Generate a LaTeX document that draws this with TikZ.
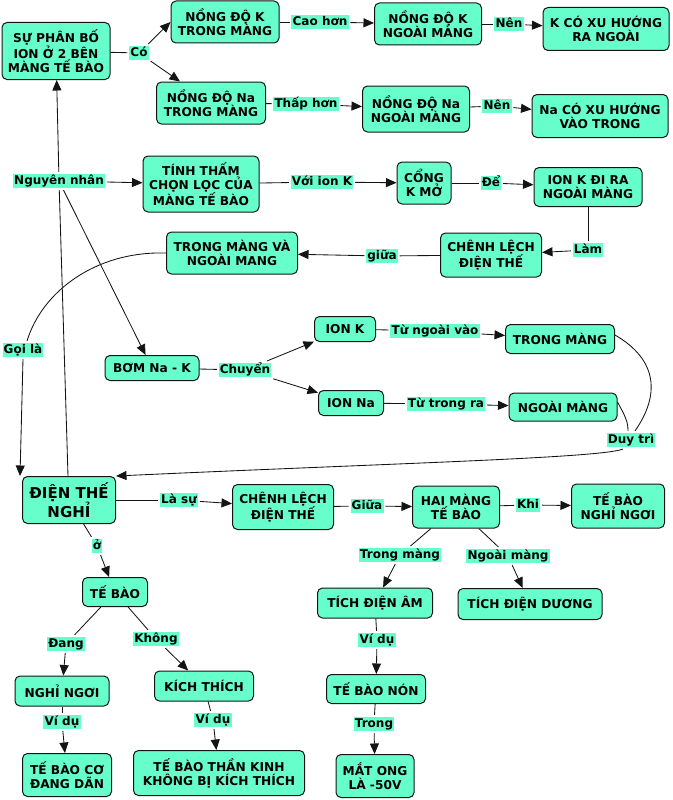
\documentclass[tikz,border=0pt]{standalone}
\usepackage{fontspec}
\setmainfont{DejaVu Sans}
\usetikzlibrary{arrows.meta}
\definecolor{aqua}{RGB}{102,255,204}
\definecolor{ln}{RGB}{20,20,20}
\begin{document}
\begin{tikzpicture}[x=1pt,y=-1pt,
 box/.style={draw=ln, fill=aqua, rounded corners=5pt, line width=1pt, align=center,
   font=\fontsize{12.2}{14.2}\selectfont\bfseries, inner sep=1pt},
 lab/.style={fill=aqua, inner sep=1.2pt, outer sep=1.8pt, text height=9.5pt, text depth=2.6pt,
   font=\fontsize{12}{14}\selectfont\bfseries},
 con/.style={draw=ln, line width=0.85pt},
 arr/.style={con, -{Triangle[length=10.5pt,width=9pt]}}]
\useasboundingbox (0,0) rectangle (672,800);

% ---- boxes ----
\node[box,minimum width=108pt,minimum height=57pt] (b1) at (56,51) {SỰ PHÂN BỐ\\ION Ở 2 BÊN\\MÀNG TẾ BÀO};
\node[box,minimum width=108pt,minimum height=42pt] (kin) at (225,22) {NỒNG ĐỘ K\\TRONG MÀNG};
\node[box,minimum width=107pt,minimum height=42pt] (kout) at (428,24) {NỒNG ĐỘ K\\NGOÀI MÀNG};
\node[box,minimum width=126pt,minimum height=43pt] (kdir) at (606,29) {K CÓ XU HƯỚNG\\RA NGOÀI};
\node[box,minimum width=109pt,minimum height=42pt] (nain) at (211,103) {NỒNG ĐỘ Na\\TRONG MÀNG};
\node[box,minimum width=107pt,minimum height=46pt] (naout) at (416,109) {NỒNG ĐỘ Na\\NGOÀI MÀNG};
\node[box,minimum width=136pt,minimum height=43pt] (nadir) at (600,116) {Na CÓ XU HƯỚNG\\VÀO TRONG};
\node[box,minimum width=116pt,minimum height=56pt] (ttcl) at (201,184) {TÍNH THẤM\\CHỌN LỌC CỦA\\MÀNG TẾ BÀO};
\node[box,minimum width=54pt,minimum height=42pt] (cong) at (424,183) {CỔNG\\K MỞ};
\node[box,minimum width=108pt,minimum height=39pt] (ionkra) at (588,187) {ION K ĐI RA\\NGOÀI MÀNG};
\node[box,minimum width=101pt,minimum height=44pt] (cldta) at (491,255) {CHÊNH LỆCH\\ĐIỆN THẾ};
\node[box,minimum width=131pt,minimum height=42pt] (tmnm) at (232,253) {TRONG MÀNG VÀ\\NGOÀI MANG};
\node[box,minimum width=94pt,minimum height=25pt] (bom) at (152,368) {BƠM Na - K};
\node[box,minimum width=61pt,minimum height=25pt] (ionk) at (345,329) {ION K};
\node[box,minimum width=109pt,minimum height=29pt] (trongm) at (560,339) {TRONG MÀNG};
\node[box,minimum width=65pt,minimum height=25pt] (ionna) at (351,403) {ION Na};
\node[box,minimum width=108pt,minimum height=28pt] (ngoaim) at (563,407) {NGOÀI MÀNG};
\node[box,minimum width=93pt,minimum height=47pt,font=\fontsize{15}{17.5}\selectfont\bfseries] (dtn) at (69,500) {ĐIỆN THẾ\\NGHỈ};
\node[box,minimum width=101pt,minimum height=45pt] (cldtb) at (283,507) {CHÊNH LỆCH\\ĐIỆN THẾ};
\node[box,minimum width=87pt,minimum height=42pt] (hai) at (456,507) {HAI MÀNG\\TẾ BÀO};
\node[box,minimum width=93pt,minimum height=44pt] (tbnn) at (618,506) {TẾ BÀO\\NGHỈ NGƠI};
\node[box,minimum width=115pt,minimum height=30pt] (tdam) at (375,603) {TÍCH ĐIỆN ÂM};
\node[box,minimum width=144pt,minimum height=31pt] (tdduong) at (530,604) {TÍCH ĐIỆN DƯƠNG};
\node[box,minimum width=99pt,minimum height=29pt] (tbnon) at (376,689) {TẾ BÀO NÓN};
\node[box,minimum width=78pt,minimum height=43pt] (matong) at (375,776) {MẮT ONG\\LÀ -50V};
\node[box,minimum width=65pt,minimum height=29pt] (tb) at (115,592) {TẾ BÀO};
\node[box,minimum width=94pt,minimum height=30pt] (nghingoi) at (62,691) {NGHỈ NGƠI};
\node[box,minimum width=99pt,minimum height=30pt] (kichthich) at (204,686) {KÍCH THÍCH};
\node[box,minimum width=89pt,minimum height=43pt] (tbco) at (67,775) {TẾ BÀO CƠ\\ĐANG DÃN};
\node[box,minimum width=171pt,minimum height=45pt] (tbtk) at (219,773) {TẾ BÀO THẦN KINH\\KHÔNG BỊ KÍCH THÍCH};

% ---- labels ----
\node[lab] (lco) at (139,53) {Có};
\node[lab] (lcao) at (320,22) {Cao hơn};
\node[lab] (lnena) at (509,24) {Nên};
\node[lab] (lthap) at (306,104) {Thấp hơn};
\node[lab] (lnenb) at (497,106) {Nên};
\node[lab] (lnn) at (59,181) {Nguyên nhân};
\node[lab] (lvoi) at (322,182) {Với ion K};
\node[lab] (lde) at (491,183) {Để};
\node[lab] (llam) at (588,250) {Làm};
\node[lab] (lgiuaa) at (382,256) {giữa};
\node[lab] (lgoi) at (23,350) {Gọi là};
\node[lab] (lchuyen) at (245,370) {Chuyển};
\node[lab] (ltnv) at (435,331) {Từ ngoài vào};
\node[lab] (ltr) at (446,404) {Từ trong ra};
\node[lab] (lduy) at (631,440) {Duy trì};
\node[lab] (lsu) at (179,500) {Là sự};
\node[lab] (lgiuab) at (367,506) {Giữa};
\node[lab] (lkhi) at (528,505) {Khi};
\node[lab] (ltrongm) at (400,555) {Trong màng};
\node[lab] (lngoaim) at (508,556) {Ngoài màng};
\node[lab] (lvdc) at (377,640) {Ví dụ};
\node[lab] (ltrong) at (374,724) {Trong};
\node[lab] (lo) at (97,546) {ở};
\node[lab] (ldang) at (66,644) {Đang};
\node[lab] (lkhong) at (156,639) {Không};
\node[lab] (lvda) at (62,722) {Ví dụ};
\node[lab] (lvdb) at (213,720) {Ví dụ};

% ---- connectors ----
\draw[con] (b1) -- (lco);
\draw[arr] (lco) -- (kin.west);
\draw[arr] (lco) -- ([xshift=24pt]nain.north west);
\draw[con] (kin) -- (lcao);
\draw[arr] (lcao) -- (kout);
\draw[con] (kout) -- (lnena);
\draw[arr] (lnena) -- (kdir);
\draw[con] (nain) -- (lthap);
\draw[arr] (lthap) -- (naout);
\draw[con] (naout) -- (lnenb);
\draw[arr] (lnenb) -- (nadir);

\draw[con] ([xshift=-1pt]dtn.north) -- (lnn);
\draw[arr] (lnn) -- (b1);
\draw[arr] (lnn) -- (ttcl);
\draw[arr] (lnn) -- (bom);
\draw[con] (ttcl) -- (lvoi);
\draw[arr] (lvoi) -- (cong);
\draw[con] (cong) -- (lde);
\draw[arr] (lde) -- (ionkra);
\draw[con] (ionkra) -- (llam);
\draw[arr] (llam) -- (cldta);
\draw[con] (cldta) -- (lgiuaa);
\draw[arr] (lgiuaa) -- (tmnm);
\draw[con] (tmnm.west) .. controls (95,251) and (42,292) .. ([xshift=4pt]lgoi.north);
\draw[arr] (lgoi.south) -- ([xshift=-2pt]dtn.north west);

\draw[con] (bom) -- (lchuyen);
\draw[arr] (lchuyen) -- (ionk);
\draw[arr] (lchuyen) -- (ionna);
\draw[con] (ionk) -- (ltnv);
\draw[arr] (ltnv) -- (trongm);
\draw[con] (ionna) -- (ltr);
\draw[arr] (ltr) -- (ngoaim);
\draw[con] ([yshift=4pt]trongm.east) .. controls (658,360) and (660,395) .. ([xshift=4pt]lduy.north);
\draw[con] ([yshift=5pt]ngoaim.east) .. controls (625,416) and (628,421) .. ([xshift=-3pt]lduy.north);
\draw[arr] ([xshift=-8pt]lduy.south) .. controls (600,458) and (400,463) .. (dtn.north east);

\draw[con] (dtn) -- (lsu);
\draw[arr] (lsu) -- (cldtb);
\draw[con] (cldtb) -- (lgiuab);
\draw[arr] (lgiuab) -- (hai);
\draw[con] (hai) -- (lkhi);
\draw[arr] (lkhi) -- (tbnn);
\draw[con] (hai) -- (ltrongm);
\draw[arr] (ltrongm) -- (tdam);
\draw[con] (hai) -- (lngoaim);
\draw[arr] (lngoaim) -- (tdduong);
\draw[con] (tdam) -- (lvdc);
\draw[arr] (lvdc) -- (tbnon);
\draw[con] (tbnon) -- (ltrong);
\draw[arr] (ltrong) -- (matong);

\draw[con] (dtn) -- (lo);
\draw[arr] (lo) -- (tb);
\draw[con] (tb) -- (ldang);
\draw[arr] (ldang) -- (nghingoi);
\draw[con] (tb) -- (lkhong);
\draw[arr] (lkhong) -- (kichthich);
\draw[con] (nghingoi) -- (lvda);
\draw[arr] (lvda) -- (tbco);
\draw[con] (kichthich) -- (lvdb);
\draw[arr] (lvdb) -- (tbtk);
\end{tikzpicture}
\end{document}
